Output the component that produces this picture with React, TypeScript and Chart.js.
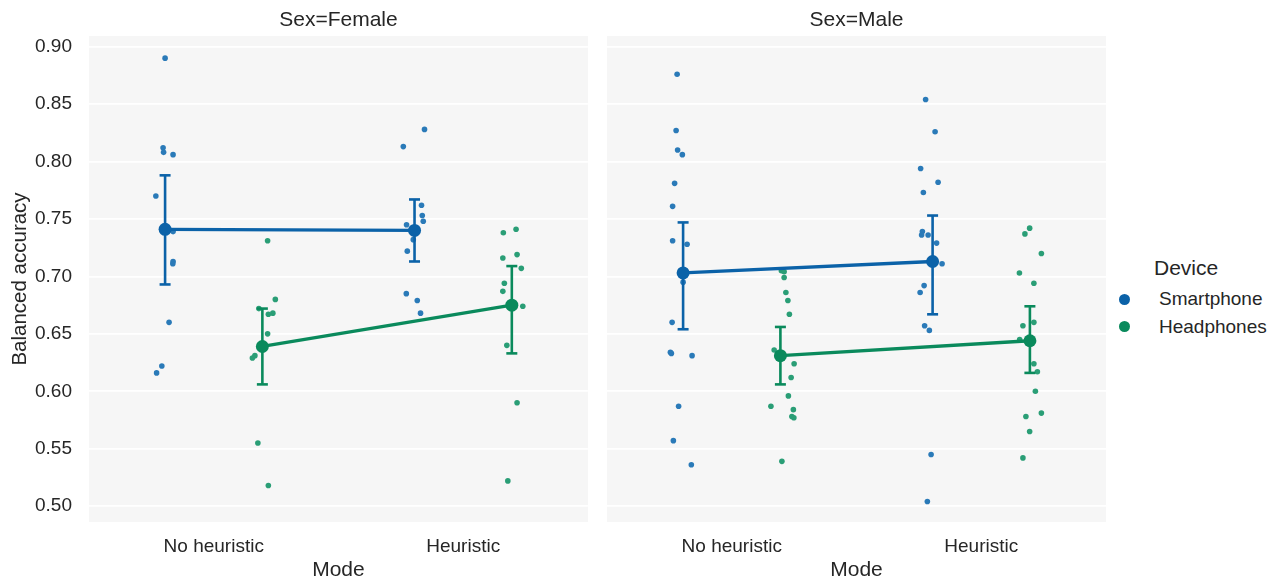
import React, { useEffect, useRef } from "react";
import { Chart, registerables } from "chart.js";

Chart.register(...registerables);

// ---------- data ----------
const modes = ["No heuristic", "Heuristic"];
const devices = ["Smartphone", "Headphones"];
const yTicks = [0.5, 0.55, 0.6, 0.65, 0.7, 0.75, 0.8, 0.85, 0.9];

// Sex=Female
const femSmartNoH = [0.890, 0.812, 0.808, 0.806, 0.770, 0.739, 0.713, 0.711, 0.660, 0.622, 0.616];
const femSmartNoHJit = [0, -0.008, -0.006, 0.032, -0.037, 0.032, 0.032, 0.031, 0.016, -0.013, -0.034];
const femHeadNoH = [0.731, 0.680, 0.672, 0.668, 0.667, 0.650, 0.631, 0.629, 0.555, 0.518];
const femHeadNoHJit = [0.021, 0.052, -0.014, 0.042, 0.024, 0.021, -0.030, -0.040, -0.018, 0.024];
const femSmartH = [0.828, 0.813, 0.762, 0.753, 0.748, 0.745, 0.732, 0.722, 0.685, 0.679, 0.668];
const femSmartHJit = [0.040, -0.045, 0.028, 0.031, 0.035, -0.032, -0.005, -0.029, -0.033, 0.011, 0.024];
const femHeadH = [0.741, 0.738, 0.719, 0.716, 0.707, 0.694, 0.687, 0.674, 0.640, 0.590, 0.522];
const femHeadHJit = [0.017, -0.034, 0.021, -0.036, 0.038, -0.030, -0.036, 0.044, -0.020, 0.021, -0.016];
const femSmartMean = [0.741, 0.740];
const femSmartCiLo = [0.693, 0.713];
const femSmartCiHi = [0.788, 0.767];
const femHeadMean = [0.639, 0.675];
const femHeadCiLo = [0.606, 0.633];
const femHeadCiHi = [0.672, 0.709];

// Sex=Male
const maleSmartNoH = [0.876, 0.827, 0.810, 0.806, 0.781, 0.761, 0.731, 0.728, 0.695, 0.660, 0.634, 0.633, 0.631, 0.587, 0.557, 0.536];
const maleSmartNoHJit = [-0.024, -0.028, -0.022, -0.003, -0.034, -0.042, -0.042, 0.016, 0, -0.044, -0.051, -0.047, 0.036, -0.018, -0.039, 0.033];
const maleHeadNoH = [0.705, 0.704, 0.699, 0.686, 0.679, 0.667, 0.636, 0.624, 0.612, 0.596, 0.587, 0.584, 0.578, 0.577, 0.539];
const maleHeadNoHJit = [0.004, 0.015, 0.015, 0.022, 0.030, 0.036, -0.025, 0.055, 0.043, 0.032, -0.038, 0.052, 0.046, 0.054, 0.006];
const maleSmartH = [0.854, 0.826, 0.794, 0.782, 0.773, 0.739, 0.736, 0.736, 0.729, 0.711, 0.692, 0.686, 0.657, 0.653, 0.545, 0.504];
const maleSmartHJit = [-0.028, 0.010, -0.048, 0.022, -0.037, -0.041, -0.044, -0.018, 0.016, 0.038, -0.034, -0.050, -0.032, -0.013, -0.006, -0.021];
const maleHeadH = [0.742, 0.737, 0.720, 0.703, 0.694, 0.660, 0.657, 0.645, 0.624, 0.617, 0.600, 0.581, 0.578, 0.565, 0.542];
const maleHeadHJit = [-0.001, -0.020, 0.046, -0.042, 0.016, 0.016, -0.028, -0.041, 0.016, 0.030, 0.022, 0.046, -0.016, -0.001, -0.028];
const maleSmartMean = [0.703, 0.713];
const maleSmartCiLo = [0.654, 0.667];
const maleSmartCiHi = [0.747, 0.753];
const maleHeadMean = [0.631, 0.644];
const maleHeadCiLo = [0.606, 0.616];
const maleHeadCiHi = [0.656, 0.674];

// ---------- styles ----------
const FONT = "'Liberation Sans', Arial, Helvetica, sans-serif";
const TEXT = "#262626";
const PANEL_BG = "#f6f6f6";
const DOT_COLORS = ["#2a7ab8", "#2a9e76"];
const MEAN_COLORS = ["#0b62a8", "#0a8a5c"];
const DODGE = 0.195;
const Y_MIN = 0.4862;
const Y_MAX = 0.9093;

type Facet = {
  title: string;
  strips: { values: number[]; jitter: number[] }[][]; // [device][mode]
  means: number[][];
  ciLo: number[][];
  ciHi: number[][];
};

const facets: Facet[] = [
  {
    title: "Sex=Female",
    strips: [
      [{ values: femSmartNoH, jitter: femSmartNoHJit }, { values: femSmartH, jitter: femSmartHJit }],
      [{ values: femHeadNoH, jitter: femHeadNoHJit }, { values: femHeadH, jitter: femHeadHJit }],
    ],
    means: [femSmartMean, femHeadMean],
    ciLo: [femSmartCiLo, femHeadCiLo],
    ciHi: [femSmartCiHi, femHeadCiHi],
  },
  {
    title: "Sex=Male",
    strips: [
      [{ values: maleSmartNoH, jitter: maleSmartNoHJit }, { values: maleSmartH, jitter: maleSmartHJit }],
      [{ values: maleHeadNoH, jitter: maleHeadNoHJit }, { values: maleHeadH, jitter: maleHeadHJit }],
    ],
    means: [maleSmartMean, maleHeadMean],
    ciLo: [maleSmartCiLo, maleHeadCiLo],
    ciHi: [maleSmartCiHi, maleHeadCiHi],
  },
];

function dodgeOf(d: number) {
  return d === 0 ? -DODGE : DODGE;
}

function buildDatasets(f: Facet) {
  const ds: any[] = [];
  // strip points
  devices.forEach((_, d) => {
    const pts: { x: number; y: number }[] = [];
    modes.forEach((__, m) => {
      const s = f.strips[d][m];
      s.values.forEach((v, i) => pts.push({ x: m + dodgeOf(d) + s.jitter[i], y: v }));
    });
    ds.push({
      type: "scatter",
      data: pts,
      pointRadius: 2.8,
      pointHoverRadius: 2.8,
      pointBorderWidth: 0,
      pointBackgroundColor: DOT_COLORS[d],
      backgroundColor: DOT_COLORS[d],
      borderColor: DOT_COLORS[d],
      showLine: false,
      order: 5,
      clip: false,
    });
  });
  // error bars + mean lines
  devices.forEach((_, d) => {
    modes.forEach((__, m) => {
      const x = m + dodgeOf(d);
      ds.push({
        type: "line",
        data: [
          { x, y: f.ciLo[d][m] },
          { x, y: f.ciHi[d][m] },
        ],
        borderColor: MEAN_COLORS[d],
        borderWidth: 2.6,
        pointStyle: "line",
        pointRadius: 5.5,
        pointHoverRadius: 5.5,
        pointBorderWidth: 2.6,
        pointBorderColor: MEAN_COLORS[d],
        fill: false,
        order: 3 - d * 0.5,
        clip: false,
      });
    });
    ds.push({
      type: "line",
      data: modes.map((__, m) => ({ x: m + dodgeOf(d), y: f.means[d][m] })),
      borderColor: MEAN_COLORS[d],
      borderWidth: 3.3,
      pointRadius: 6.5,
      pointHoverRadius: 6.5,
      pointBorderWidth: 0,
      pointBackgroundColor: MEAN_COLORS[d],
      tension: 0,
      fill: false,
      order: 2 - d * 0.5,
      clip: false,
    });
  });
  return ds;
}

function makeConfig(f: Facet, showY: boolean, yWidth: number, padRight: number): any {
  const facetPlugin = {
    id: "facetDeco",
    beforeDraw(chart: any) {
      const { ctx, chartArea } = chart;
      ctx.save();
      ctx.fillStyle = PANEL_BG;
      ctx.fillRect(chartArea.left, chartArea.top, chartArea.right - chartArea.left, chartArea.bottom - chartArea.top);
      ctx.restore();
    },
    afterDraw(chart: any) {
      const { ctx, chartArea } = chart;
      ctx.save();
      ctx.fillStyle = TEXT;
      ctx.font = `21px ${FONT}`;
      ctx.textAlign = "center";
      ctx.textBaseline = "middle";
      ctx.fillText(f.title, (chartArea.left + chartArea.right) / 2, 20);
      ctx.restore();
    },
  };
  return {
    data: { datasets: buildDatasets(f) },
    plugins: [facetPlugin],
    options: {
      animation: false,
      responsive: false,
      devicePixelRatio: 1,
      events: [],
      layout: { padding: { top: 36, right: padRight, left: 0, bottom: 0 } },
      plugins: { legend: { display: false }, tooltip: { enabled: false } },
      scales: {
        x: {
          type: "linear",
          min: -0.5,
          max: 1.5,
          afterBuildTicks: (s: any) => {
            s.ticks = modes.map((_, i) => ({ value: i }));
          },
          afterFit: (s: any) => {
            s.height = 62;
          },
          grid: { display: false, drawTicks: false },
          border: { display: false },
          ticks: {
            color: TEXT,
            font: { family: FONT, size: 19 },
            padding: 13,
            maxRotation: 0,
            autoSkip: false,
            callback: (v: number) => modes[Math.round(v)],
          },
          title: {
            display: true,
            text: "Mode",
            color: TEXT,
            font: { family: FONT, size: 21 },
            padding: { top: 0, bottom: 1 },
          },
        },
        y: {
          type: "linear",
          min: Y_MIN,
          max: Y_MAX,
          afterBuildTicks: (s: any) => {
            s.ticks = yTicks.map((v) => ({ value: v }));
          },
          afterFit: (s: any) => {
            s.width = yWidth;
          },
          grid: { display: true, color: "#ffffff", lineWidth: 1.8, drawTicks: false },
          border: { display: false },
          ticks: {
            display: showY,
            color: TEXT,
            font: { family: FONT, size: 19 },
            padding: 17,
            callback: (v: number) => v.toFixed(2),
          },
          title: {
            display: showY,
            text: "Balanced accuracy",
            color: TEXT,
            font: { family: FONT, size: 20.5 },
            padding: { top: 8.5, bottom: 0 },
          },
        },
      },
    },
  };
}

function FacetChart({ f, showY, left, width, yWidth, padRight }: any) {
  const ref = useRef<HTMLCanvasElement | null>(null);
  useEffect(() => {
    if (!ref.current) return;
    const chart = new Chart(ref.current, makeConfig(f, showY, yWidth, padRight));
    return () => chart.destroy();
  }, []);
  return (
    <canvas
      ref={ref}
      width={width}
      height={584}
      style={{ position: "absolute", left, top: 0, width, height: 584, display: "block" }}
    />
  );
}

export default function App() {
  return (
    <div
      style={{
        position: "fixed",
        left: 0,
        top: 0,
        width: 1278,
        height: 584,
        background: "#ffffff",
        fontFamily: FONT,
        color: TEXT,
        overflow: "hidden",
      }}
    >
      <FacetChart f={facets[0]} showY={true} left={0} width={596} yWidth={89} padRight={8} />
      <FacetChart f={facets[1]} showY={false} left={596} width={520} yWidth={11} padRight={10} />
      <div style={{ position: "absolute", left: 1154, top: 255, fontSize: 21, lineHeight: "26px", whiteSpace: "nowrap" }}>
        Device
      </div>
      {devices.map((d, i) => (
        <React.Fragment key={d}>
          <div
            style={{
              position: "absolute",
              left: 1118.5,
              top: 293.5 + i * 27.7,
              width: 11,
              height: 11,
              borderRadius: "50%",
              background: MEAN_COLORS[i],
            }}
          />
          <div
            style={{
              position: "absolute",
              left: 1159,
              top: 287 + i * 27.7,
              fontSize: 19,
              lineHeight: "24px",
              whiteSpace: "nowrap",
            }}
          >
            {d}
          </div>
        </React.Fragment>
      ))}
    </div>
  );
}
